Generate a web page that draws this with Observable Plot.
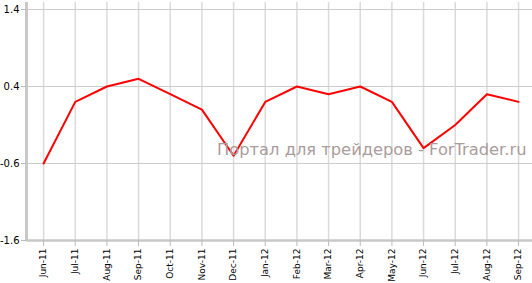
<!DOCTYPE html>
<html><head><meta charset="utf-8">
<script src="https://cdn.jsdelivr.net/npm/d3@7"></script>
<script src="https://cdn.jsdelivr.net/npm/@observablehq/plot@0.6"></script>
<style>body{margin:0;background:#fff}</style>
</head><body><div id="chart"></div>
<script>
const months = ["Jun-11","Jul-11","Aug-11","Sep-11","Oct-11","Nov-11","Dec-11","Jan-12","Feb-12","Mar-12","Apr-12","May-12","Jun-12","Jul-12","Aug-12","Sep-12"];
const values = [-0.6, 0.2, 0.4, 0.5, 0.3, 0.1, -0.5, 0.2, 0.4, 0.3, 0.4, 0.2, -0.4, -0.1, 0.3, 0.2];
const yTicks = [1.4, 0.4, -0.6, -1.6];
const watermark = "Портал для трейдеров - ForTrader.ru";

const data = months.map((m, i) => ({i, m, v: values[i]}));
const idx = d3.range(months.length);
const xDomain = [-0.54, months.length - 1 + 0.44];

const chart = Plot.plot({
  width: 532, height: 283,
  marginLeft: 26, marginRight: 0, marginTop: 2, marginBottom: 43,
  style: {fontFamily: "DejaVu Sans", background: "#fff"},
  x: {type: "linear", domain: xDomain, label: null},
  y: {domain: [-1.6, 1.4], insetTop: 7, label: null},
  marks: [
    Plot.ruleX(idx, {stroke: "#dadada", strokeWidth: 1.5}),
    Plot.ruleY(yTicks, {stroke: "#cccccc"}),
    Plot.ruleX([xDomain[0]], {stroke: "#c8c8c8", strokeWidth: 3}),
    Plot.ruleY([-1.6], {stroke: "#c8c8c8", strokeWidth: 2.5}),
    Plot.axisY(yTicks, {tickSize: 5, tickPadding: 2, stroke: "#bbb", fill: "#000", fontSize: 10, label: null, tickFormat: d => d.toFixed(1)}),
    Plot.axisX(idx, {tickSize: 6, tickPadding: 2, tickRotate: -90, stroke: "#bbb", fill: "#000", fontSize: 9, label: null, tickFormat: i => months[i]}),
    Plot.line(data, {x: "i", y: "v", stroke: "red", strokeWidth: 2}),
    Plot.text([watermark], {frameAnchor: "bottom-right", dx: -6, dy: -86, textAnchor: "end", fill: "#ab9c9c", fontSize: 16.3, text: d => d})
  ]
});
document.getElementById("chart").appendChild(chart);
</script>
</body></html>
